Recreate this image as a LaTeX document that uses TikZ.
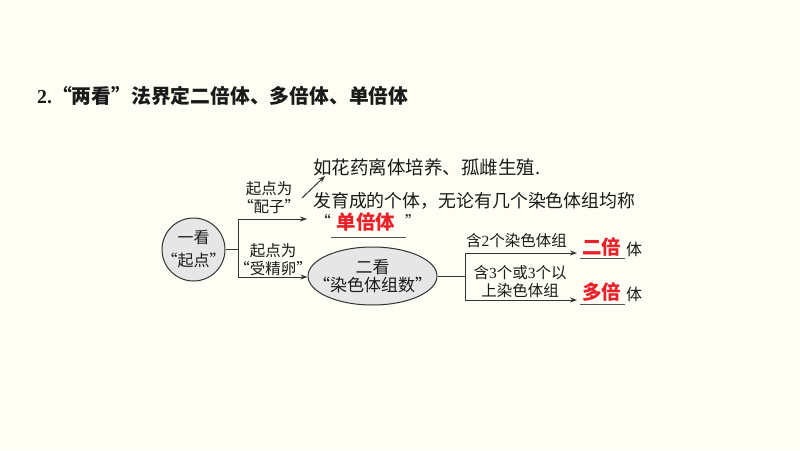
\documentclass[tikz,border=0pt]{standalone}
\usepackage{fontspec}
\setmainfont{Liberation Serif}
\newfontfamily\cjk{Noto Sans CJK SC}
\newfontfamily\lat{Liberation Serif}
\usetikzlibrary{arrows.meta,shapes.geometric}
\definecolor{bgc}{HTML}{FEFEF4}
\definecolor{ink}{HTML}{1A1A1A}
\definecolor{linec}{HTML}{333333}
\definecolor{redc}{HTML}{E8202A}
\definecolor{fillc}{HTML}{E6E6E6}
\definecolor{ulc}{HTML}{555555}
\tikzset{
  conn/.style={draw=linec, line width=1},
  arr/.style={conn, -{Stealth[length=7,width=5]}},
  lbl/.style={inner sep=0, text=ink, align=center, font=\cjk\fontsize{15.5}{18}\selectfont},
  redtxt/.style={inner sep=0, text=redc, font=\cjk\bfseries\fontsize{19.5}{20}\selectfont},
  ul/.style={draw=ulc, line width=1},
}
\begin{document}
\begin{tikzpicture}[x=1pt,y=-1pt]
\fill[bgc] (0,0) rectangle (800,450);
\useasboundingbox (0,0) rectangle (800,450);

\node[anchor=west, inner sep=0, text=ink, font=\cjk\bfseries\fontsize{19.8}{22}\selectfont] (title) at (37,96) {{\lat\bfseries 2.}\makebox[1em][r]{“}两看\makebox[1em][l]{”}法界定二倍体、多倍体、单倍体};

% first look circle
\node[circle, draw=linec, line width=1, fill=fillc, minimum size=63, inner sep=0] (c1) at (193.5,249.5) {};
\node[lbl, font=\cjk\fontsize{16}{23}\selectfont] (c1t) at (c1.center) {一看\\“起点”};

\coordinate (jt) at (238,219);
\coordinate (jb) at (238,277);
\coordinate (tt) at (307,219);
\draw[conn] (c1.east) -- (c1.east -| jt);
\draw[conn] (jt) -- (jb);
\draw[arr] (jt) -- (tt);

\node[lbl] (l1) at (269,198) {起点为\\“配子”};
\node[lbl] (l2) at (273,260) {起点为\\“受精卵”};

% ellipse
\node[ellipse, draw=linec, line width=1, fill=fillc, minimum width=129, minimum height=58, inner sep=0] (e1) at (372.5,276) {};
\node[lbl, font=\cjk\fontsize{17}{18.5}\selectfont] (e1t) at (e1.center) {二看\\“染色体组数”};
\draw[arr] (jb) -- (jb -| e1.west);

% haploid text
\coordinate (ds) at (302,198);
\coordinate (de) at (325,176);
\draw[arr] (ds) -- (de);
\node[anchor=west, inner sep=0, text=ink, font=\cjk\fontsize{18.5}{20}\selectfont] (hw) at (313,167) {如花药离体培养、孤雌生殖.};
\node[anchor=west, inner sep=0, text=ink, font=\cjk\fontsize{17.9}{20}\selectfont] (dev) at (313,201) {发育成的个体，无论有几个染色体组均称};
\node[lbl, anchor=east] (q1) at (331,221) {“};
\node[redtxt] (hap) at (366,222) {单倍体};
\node[lbl, anchor=west] (q2) at (405,221) {”};
\coordinate (u1a) at (331,237);
\coordinate (u1b) at (406,237);
\draw[ul] (u1a) -- (u1b);

% right branch
\coordinate (rt) at (465,253);
\coordinate (rb) at (465,300);
\coordinate (rm) at (465,276);
\coordinate (at) at (577,253);
\coordinate (ab) at (577,300);
\draw[conn] (e1.east) -- (rm);
\draw[conn] (rt) -- (rb);
\draw[arr] (rt) -- (at);
\draw[arr] (rb) -- (ab);
\node[lbl] (l3) at (516.5,241) {含{\lat 2}个染色体组};
\node[lbl] (l4) at (520,282) {含{\lat 3}个或{\lat 3}个以\\上染色体组};

\node[redtxt] (di) at (601.5,247) {二倍};
\node[lbl, font=\cjk\fontsize{16}{18}\selectfont] (ti1) at (634,249) {体};
\coordinate (u2a) at (580,258);
\coordinate (u2b) at (625,258);
\draw[ul] (u2a) -- (u2b);

\node[redtxt] (po) at (601.5,292) {多倍};
\node[lbl, font=\cjk\fontsize{16}{18}\selectfont] (ti2) at (634,294) {体};
\coordinate (u3a) at (580,304);
\coordinate (u3b) at (625,304);
\draw[ul] (u3a) -- (u3b);
\end{tikzpicture}
\end{document}
